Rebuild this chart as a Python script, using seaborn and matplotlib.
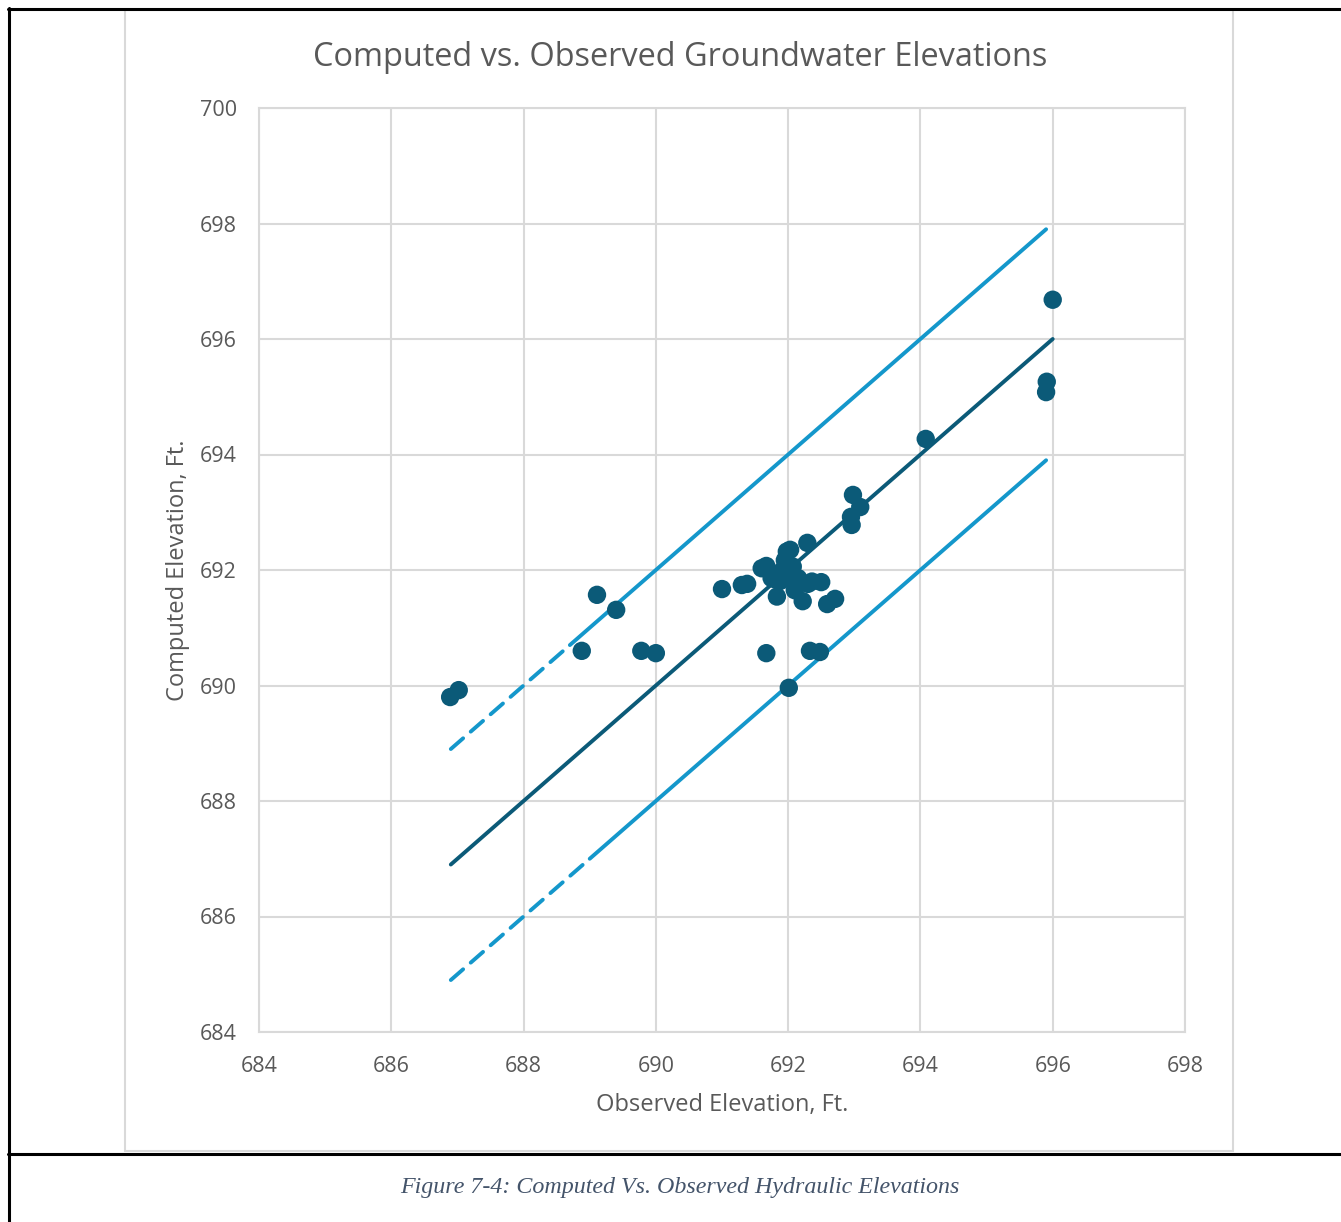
import matplotlib
matplotlib.use("Agg")
import matplotlib.pyplot as plt
from matplotlib.lines import Line2D
from matplotlib.patches import Rectangle
import seaborn as sns
import pandas as pd

# ---- data ----
observed = [686.89, 687.02, 689.11, 689.40, 688.88, 689.78, 690.00, 691.00, 691.30, 691.38,
            691.67, 691.60, 691.67, 692.29, 692.33, 692.48, 692.01, 692.50, 692.30, 692.22,
            692.59, 692.71, 692.98, 693.09, 692.95, 692.96, 694.08, 695.91, 695.90, 696.00,
            691.98, 692.36, 691.83, 691.75, 691.95, 692.03, 692.07, 691.88, 692.00, 692.10,
            692.15, 691.92, 691.82]
computed = [689.80, 689.92, 691.57, 691.31, 690.60, 690.60, 690.56, 691.67, 691.74, 691.76,
            690.56, 692.03, 692.07, 692.47, 690.60, 690.58, 689.96, 691.79, 691.76, 691.46,
            691.41, 691.50, 693.30, 693.09, 692.92, 692.78, 694.27, 695.26, 695.08, 696.68,
            692.32, 691.80, 691.54, 691.86, 692.17, 692.35, 692.06, 691.81, 691.86, 691.65,
            691.86, 692.00, 691.83]

line_x = [686.9, 696.0]            # 1:1 line
upper_dash_x = [686.9, 688.7]      # +2 ft line, dashed part
upper_solid_x = [688.7, 695.9]
lower_dash_x = [686.9, 689.0]      # -2 ft line, dashed part
lower_solid_x = [689.0, 695.9]
offset = 2.0

x_ticks = [684, 686, 688, 690, 692, 694, 696, 698]
y_ticks = [684, 686, 688, 690, 692, 694, 696, 698, 700]

title = "Computed vs. Observed Groundwater Elevations"
xlabel = "Observed Elevation, Ft."
ylabel = "Computed Elevation, Ft."
caption = "Figure 7-4: Computed Vs. Observed Hydraulic Elevations"

# ---- styling ----
sns.set_theme(style="white")
plt.rcParams['font.family'] = ['Open Sans', 'DejaVu Sans']

DARK = "#0b5a78"
LIGHT = "#1497cb"
GRID = "#d9d9d9"
TXT = "#595959"

W, H = 1341, 1222
fig = plt.figure(figsize=(W / 100, H / 100), dpi=100)
ax = fig.add_axes([259 / W, 1 - 1032 / H, (1185 - 259) / W, (1032 - 108) / H])

df = pd.DataFrame({"obs": observed, "comp": computed})

lw = 2.8
sns.lineplot(x=line_x, y=line_x, ax=ax, color=DARK, linewidth=lw, zorder=3)
sns.lineplot(x=upper_solid_x, y=[v + offset for v in upper_solid_x], ax=ax,
             color=LIGHT, linewidth=lw, zorder=3)
sns.lineplot(x=upper_dash_x, y=[v + offset for v in upper_dash_x], ax=ax,
             color=LIGHT, linewidth=lw, dashes=(4.2, 2.6), zorder=3)
sns.lineplot(x=lower_solid_x, y=[v - offset for v in lower_solid_x], ax=ax,
             color=LIGHT, linewidth=lw, zorder=3)
sns.lineplot(x=lower_dash_x, y=[v - offset for v in lower_dash_x], ax=ax,
             color=LIGHT, linewidth=lw, dashes=(4.2, 2.6), zorder=3)
for l in ax.lines:
    l.set_solid_capstyle("round")
    l.set_dash_capstyle("round")

sns.scatterplot(data=df, x="obs", y="comp", ax=ax, color=DARK, s=175,
                edgecolor="none", linewidth=0, zorder=4)

ax.set_xlim(684, 698)
ax.set_ylim(684, 700)
ax.set_xticks(x_ticks)
ax.set_yticks(y_ticks)
ax.grid(True, color=GRID, linewidth=1.5)
ax.set_axisbelow(True)
for sp in ax.spines.values():
    sp.set_color(GRID)
    sp.set_linewidth(1.5)
ax.tick_params(axis="both", length=0, labelsize=15.5, labelcolor=TXT)
ax.tick_params(axis="y", pad=16)
ax.tick_params(axis="x", pad=17)
ax.set_xlabel(xlabel, fontsize=17, color=TXT, labelpad=12)
ax.set_ylabel(ylabel, fontsize=17, color=TXT, labelpad=7)

fig.text(680 / W, 1 - 57 / H, title, ha="center", va="center", fontsize=23.4, color=TXT)

# inner chart frame
fig.add_artist(Rectangle((125 / W, 1 - 1151 / H), (1233 - 125) / W, (1151 - 10) / H,
                         transform=fig.transFigure, fill=False, edgecolor=GRID, linewidth=1.5))
# black document borders
blk = dict(color="black", linewidth=2.2, transform=fig.transFigure)
fig.add_artist(Line2D([8 / W, 1.0], [1 - 8.5 / H, 1 - 8.5 / H], **blk))
fig.add_artist(Line2D([8.5 / W, 8.5 / W], [0, 1 - 8 / H], **blk))
fig.add_artist(Line2D([8 / W, 1.0], [1 - 1153.5 / H, 1 - 1153.5 / H], **blk))

fig.text(680 / W, 1 - 1187 / H, caption, ha="center", va="center", fontsize=17.3,
         color="#44546a", style="italic", family=["Liberation Serif", "DejaVu Serif"])

fig.savefig("out.png", dpi=100)
